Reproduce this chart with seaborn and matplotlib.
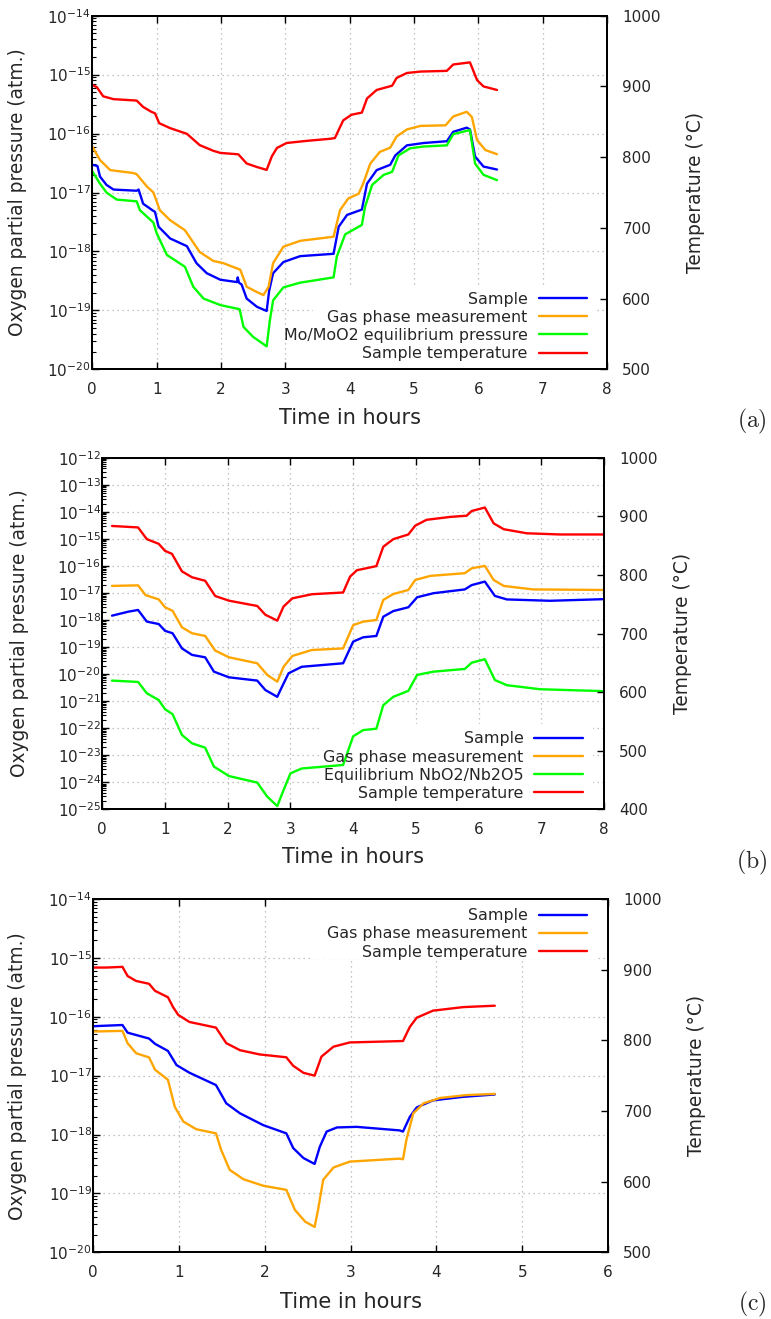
import numpy as np
import pandas as pd
import seaborn as sns
import matplotlib.pyplot as plt
from matplotlib.patches import Rectangle
from matplotlib.ticker import LogLocator, NullFormatter, MultipleLocator

sns.set_style("ticks")
plt.rcParams['font.family'] = ['DejaVu Sans']
plt.rcParams['mathtext.fontset'] = 'dejavusans'
plt.rcParams['axes.axisbelow'] = True

BLUE, ORANGE, GREEN, RED = "#0000ff", "#ffa500", "#00ff00", "#ff0000"

# ---------------- panel (a): Mo/MoO2 ----------------
# pressures stored as log10 exponents, temperature in degC
a_sample_t = [0.00, 0.08, 0.12, 0.22, 0.33, 0.69, 0.72, 0.79, 0.92, 0.975, 1.03, 1.21, 1.47, 1.62, 1.78,
              1.99, 2.25, 2.26, 2.28, 2.32, 2.40, 2.56, 2.71, 2.75, 2.81, 2.97, 3.23, 3.75, 3.83, 3.96,
              4.19, 4.27, 4.42, 4.63, 4.71, 4.89, 5.15, 5.51, 5.61, 5.82, 5.87, 5.95, 6.08, 6.29]
a_sample_e = [-16.53, -16.55, -16.73, -16.87, -16.95, -16.97, -16.95, -17.19, -17.29, -17.33, -17.58, -17.78,
              -17.91, -18.20, -18.37, -18.48, -18.52, -18.44, -18.53, -18.56, -18.80, -18.94, -19.01, -18.66,
              -18.37, -18.18, -18.08, -18.04, -17.58, -17.38, -17.29, -16.85, -16.62, -16.53, -16.37, -16.20,
              -16.16, -16.13, -15.97, -15.90, -15.93, -16.39, -16.56, -16.61]
a_gas_t = [0.00, 0.12, 0.28, 0.64, 0.69, 0.85, 0.95, 1.05, 1.21, 1.44, 1.67, 1.88, 2.04, 2.30, 2.40, 2.56,
           2.66, 2.74, 2.81, 2.97, 3.23, 3.75, 3.85, 3.98, 4.14, 4.21, 4.32, 4.47, 4.63, 4.73, 4.89, 5.10,
           5.49, 5.61, 5.82, 5.90, 5.98, 6.11, 6.29]
a_gas_e = [-16.22, -16.45, -16.62, -16.67, -16.69, -16.90, -17.00, -17.30, -17.47, -17.64, -18.01, -18.16,
           -18.20, -18.31, -18.60, -18.69, -18.74, -18.60, -18.20, -17.92, -17.82, -17.75, -17.30, -17.10,
           -17.02, -16.85, -16.51, -16.31, -16.24, -16.05, -15.93, -15.87, -15.86, -15.71, -15.63, -15.72,
           -16.11, -16.28, -16.35]
a_eq_t = [0.00, 0.12, 0.22, 0.38, 0.69, 0.74, 0.95, 1.00, 1.16, 1.44, 1.57, 1.73, 1.99, 2.29, 2.35, 2.50,
          2.71, 2.76, 2.81, 2.97, 3.23, 3.75, 3.80, 3.93, 4.19, 4.24, 4.35, 4.53, 4.66, 4.76, 4.94, 5.15,
          5.51, 5.61, 5.87, 5.95, 6.08, 6.29]
a_eq_e = [-16.64, -16.85, -17.00, -17.12, -17.15, -17.30, -17.51, -17.69, -18.06, -18.26, -18.60, -18.80,
          -18.91, -18.98, -19.28, -19.45, -19.61, -19.17, -18.83, -18.61, -18.53, -18.44, -18.09, -17.71,
          -17.55, -17.24, -16.87, -16.70, -16.65, -16.37, -16.25, -16.22, -16.20, -16.01, -15.94, -16.51,
          -16.70, -16.79]
a_temp_t = [0.00, 0.07, 0.17, 0.33, 0.69, 0.79, 0.92, 0.975, 1.04, 1.21, 1.47, 1.67, 1.88, 1.99, 2.27, 2.40,
            2.56, 2.71, 2.79, 2.87, 3.02, 3.33, 3.70, 3.77, 3.90, 4.03, 4.19, 4.27, 4.42, 4.66, 4.73, 4.89,
            5.10, 5.51, 5.61, 5.87, 5.98, 6.08, 6.29]
a_temp = [902, 899, 886, 882, 880, 871, 864, 862, 848, 841, 833, 817, 809, 806, 804, 791, 786, 782, 801, 813,
          820, 823, 826, 827, 852, 860, 863, 883, 895, 901, 912, 919, 921, 922, 931, 934, 909, 900, 895]

# ---------------- panel (b): NbO2/Nb2O5 ----------------
b_sample_t = [0.155, 0.42, 0.57, 0.71, 0.90, 1.00, 1.12, 1.27, 1.43, 1.64, 1.78, 2.02, 2.47, 2.60, 2.79, 2.84,
              2.97, 3.18, 3.84, 4.00, 4.16, 4.37, 4.48, 4.64, 4.88, 5.02, 5.28, 5.78, 5.89, 6.10, 6.26, 6.45,
              7.14, 7.99]
b_sample_e = [-17.84, -17.69, -17.63, -18.06, -18.15, -18.40, -18.49, -19.05, -19.29, -19.38, -19.91, -20.12,
              -20.24, -20.59, -20.84, -20.59, -19.97, -19.73, -19.60, -18.80, -18.64, -18.59, -17.88, -17.67,
              -17.53, -17.16, -17.01, -16.87, -16.71, -16.58, -17.11, -17.24, -17.29, -17.23]
b_gas_t = [0.155, 0.57, 0.69, 0.90, 1.00, 1.12, 1.27, 1.43, 1.64, 1.80, 2.02, 2.47, 2.63, 2.79, 2.89, 3.03,
           3.34, 3.84, 4.00, 4.16, 4.37, 4.48, 4.64, 4.88, 4.99, 5.23, 5.78, 5.89, 6.10, 6.24, 6.40, 6.87, 7.99]
b_gas_e = [-16.74, -16.72, -17.08, -17.24, -17.53, -17.66, -18.27, -18.49, -18.59, -19.13, -19.38, -19.60,
           -20.03, -20.28, -19.73, -19.33, -19.11, -19.05, -18.19, -18.06, -18.00, -17.26, -17.04, -16.89,
           -16.52, -16.37, -16.27, -16.09, -16.00, -16.52, -16.74, -16.87, -16.89]
b_eq_t = [0.155, 0.57, 0.71, 0.90, 1.00, 1.12, 1.27, 1.43, 1.64, 1.78, 2.02, 2.47, 2.63, 2.79, 2.89, 3.00,
          3.18, 3.84, 4.00, 4.16, 4.37, 4.48, 4.64, 4.88, 5.02, 5.28, 5.78, 5.89, 6.10, 6.26, 6.45, 6.98, 7.99]
b_eq_e = [-20.24, -20.29, -20.71, -20.96, -21.30, -21.48, -22.25, -22.56, -22.72, -23.42, -23.77, -24.01,
          -24.53, -24.88, -24.29, -23.67, -23.49, -23.36, -22.30, -22.07, -22.02, -21.15, -20.84, -20.62,
          -20.03, -19.91, -19.81, -19.58, -19.45, -20.22, -20.41, -20.56, -20.63]
b_temp_t = [0.155, 0.57, 0.71, 0.90, 1.00, 1.11, 1.27, 1.43, 1.64, 1.80, 2.02, 2.47, 2.60, 2.79, 2.89, 3.03,
            3.34, 3.84, 3.95, 4.06, 4.37, 4.48, 4.64, 4.88, 4.99, 5.17, 5.55, 5.81, 5.89, 6.10, 6.24, 6.40,
            6.77, 7.30, 7.99]
b_temp = [883.5, 881, 861, 853, 841, 836, 806, 796, 790, 764, 756, 747, 732, 722, 746, 760, 767, 770, 797,
          808, 815, 848, 861, 869, 884, 894, 899, 901, 909, 915, 888, 878, 871, 869, 869]

# ---------------- panel (c) ----------------
c_sample_t = [0.00, 0.34, 0.40, 0.50, 0.65, 0.72, 0.87, 0.97, 1.12, 1.43, 1.55, 1.71, 1.98, 2.25, 2.33, 2.45,
              2.58, 2.64, 2.72, 2.84, 3.07, 3.57, 3.61, 3.69, 3.77, 3.96, 4.31, 4.68]
c_sample_e = [-16.16, -16.14, -16.27, -16.31, -16.37, -16.46, -16.58, -16.82, -16.95, -17.16, -17.47, -17.64,
              -17.84, -17.98, -18.23, -18.40, -18.50, -18.21, -17.95, -17.88, -17.87, -17.93, -17.95, -17.70,
              -17.54, -17.42, -17.36, -17.32]
c_gas_t = [0.00, 0.34, 0.40, 0.50, 0.65, 0.72, 0.87, 0.95, 1.05, 1.20, 1.43, 1.49, 1.59, 1.75, 1.98, 2.25,
           2.35, 2.47, 2.58, 2.62, 2.68, 2.80, 2.99, 3.57, 3.61, 3.65, 3.73, 3.85, 4.04, 4.35, 4.68]
c_gas_e = [-16.25, -16.24, -16.45, -16.62, -16.69, -16.90, -17.07, -17.53, -17.78, -17.91, -17.98, -18.26,
           -18.60, -18.76, -18.87, -18.94, -19.28, -19.48, -19.57, -19.28, -18.77, -18.56, -18.46, -18.41,
           -18.42, -18.09, -17.64, -17.47, -17.38, -17.33, -17.31]
c_temp_t = [0.00, 0.15, 0.34, 0.40, 0.50, 0.65, 0.72, 0.87, 0.93, 0.99, 1.12, 1.43, 1.55, 1.71, 1.94, 2.25,
            2.33, 2.45, 2.58, 2.66, 2.80, 2.99, 3.61, 3.69, 3.77, 3.96, 4.31, 4.68]
c_temp = [903, 903, 904, 891, 884, 880, 870, 861, 847, 836, 826, 818, 796, 786, 780, 776, 764, 754, 750,
          777, 791, 797, 799, 819, 832, 842, 847, 849]

FS_TICK, FS_YLAB, FS_XLAB, FS_LEG = 11, 13.4, 15, 11.4

fig = plt.figure(figsize=(7.71, 13.19), dpi=100)


def draw_panel(rect, press, temp, xmax, ylims, tlims, leg_loc, leg_anchor, keybox,
               ylab_x, tlab_x, xlab_y, tag, tag_y):
    ax = fig.add_axes(rect)
    for t, e, col, name in press:
        df = pd.DataFrame({"time": t, "p": 10.0 ** np.array(e)})
        sns.lineplot(data=df, x="time", y="p", ax=ax, color=col, lw=1.7, label=name,
                     estimator=None, zorder=3)
    ax.set_yscale("log")
    ax.set_xlim(0, xmax)
    ax.set_ylim(10.0 ** ylims[0], 10.0 ** ylims[1])
    ax.yaxis.set_major_locator(LogLocator(base=10, numticks=40))
    ax.yaxis.set_minor_locator(LogLocator(base=10, subs=np.arange(2, 10), numticks=200))
    ax.yaxis.set_minor_formatter(NullFormatter())
    ax.xaxis.set_major_locator(MultipleLocator(1))
    ax.grid(True, which="major", color="#b0b0b0", lw=0.9, ls=(0, (1, 3)))
    # gnuplot leaves the grid out behind the key
    ax.add_patch(Rectangle(keybox[:2], keybox[2], keybox[3], transform=ax.transAxes,
                           facecolor="white", edgecolor="none", zorder=0.8))
    ax.tick_params(axis="x", which="major", direction="in", top=True, length=5, width=1,
                   color="black", labelsize=FS_TICK, pad=9)
    ax.tick_params(axis="y", which="major", direction="in", right=False, length=5, width=1,
                   color="black", labelsize=FS_TICK, pad=1)
    ax.tick_params(axis="y", which="minor", direction="in", right=False, length=3, width=0.8,
                   color="black")
    for s in ax.spines.values():
        s.set_linewidth(1.4)
        s.set_color("black")
    ax.set_xlabel("Time in hours", fontsize=FS_XLAB)
    ax.set_ylabel("Oxygen partial pressure (atm.)", fontsize=FS_YLAB)
    ax.xaxis.set_label_coords(0.5, xlab_y)
    ax.yaxis.set_label_coords(ylab_x, 0.5)

    ax2 = ax.twinx()
    tt, tv = temp
    sns.lineplot(x=tt, y=tv, ax=ax2, color=RED, lw=1.7, label="Sample temperature", estimator=None)
    ax2.set_ylim(*tlims)
    ax2.set_xlabel("")
    ax2.yaxis.set_major_locator(MultipleLocator(100))
    ax2.tick_params(axis="y", direction="in", left=False, right=True, length=5, width=1,
                    color="black", labelsize=FS_TICK, pad=11)
    ax2.set_ylabel("Temperature (°C)", fontsize=FS_YLAB)
    ax2.yaxis.set_label_coords(tlab_x, 0.5)
    for s in ax2.spines.values():
        s.set_linewidth(1.4)
        s.set_color("black")

    if ax.get_legend() is not None:
        ax.get_legend().remove()
    h1, l1 = ax.get_legend_handles_labels()
    h2, l2 = ax2.get_legend_handles_labels()
    ax2.legend(h1 + h2, l1 + l2, loc=leg_loc, bbox_to_anchor=leg_anchor, markerfirst=False,
               frameon=False, fontsize=FS_LEG, handlelength=3.05, handletextpad=0.7,
               labelspacing=0.2, borderpad=0.2, borderaxespad=0)
    fig.text(752 / 771, 1 - tag_y / 1319, r"$\mathrm{" + tag + "}$", math_fontfamily="cm",
             fontsize=17, ha="center", va="center")
    return ax, ax2


draw_panel([0.1197, 0.720, 0.6676, 0.2681],
           [(a_sample_t, a_sample_e, BLUE, "Sample"),
            (a_gas_t, a_gas_e, ORANGE, "Gas phase measurement"),
            (a_eq_t, a_eq_e, GREEN, "Mo/MoO2 equilibrium pressure")],
           (a_temp_t, a_temp), 8, (-20, -14), (500, 1000),
           "lower right", (0.967, 0.014), (0.429, 0.0, 0.552, 0.23),
           -0.127, 1.153, -0.110, "(a)", 421)

draw_panel([0.1327, 0.3864, 0.6507, 0.2666],
           [(b_sample_t, b_sample_e, BLUE, "Sample"),
            (b_gas_t, b_gas_e, ORANGE, "Gas phase measurement"),
            (b_eq_t, b_eq_e, GREEN, "Equilibrium NbO2/Nb2O5")],
           (b_temp_t, b_temp), 8, (-25, -12), (400, 1000),
           "lower right", (0.964, 0.015), (0.434, 0.0, 0.544, 0.243),
           -0.147, 1.137, -0.108, "(b)", 862)

draw_panel([0.1210, 0.0506, 0.6676, 0.2678],
           [(c_sample_t, c_sample_e, BLUE, "Sample"),
            (c_gas_t, c_gas_e, ORANGE, "Gas phase measurement")],
           (c_temp_t, c_temp), 6, (-20, -14), (500, 1000),
           "upper right", (0.965, 0.983), (0.427, 0.830, 0.552, 0.170),
           -0.128, 1.153, -0.1115, "(c)", 1304)

fig.savefig("out.png", dpi=100)
